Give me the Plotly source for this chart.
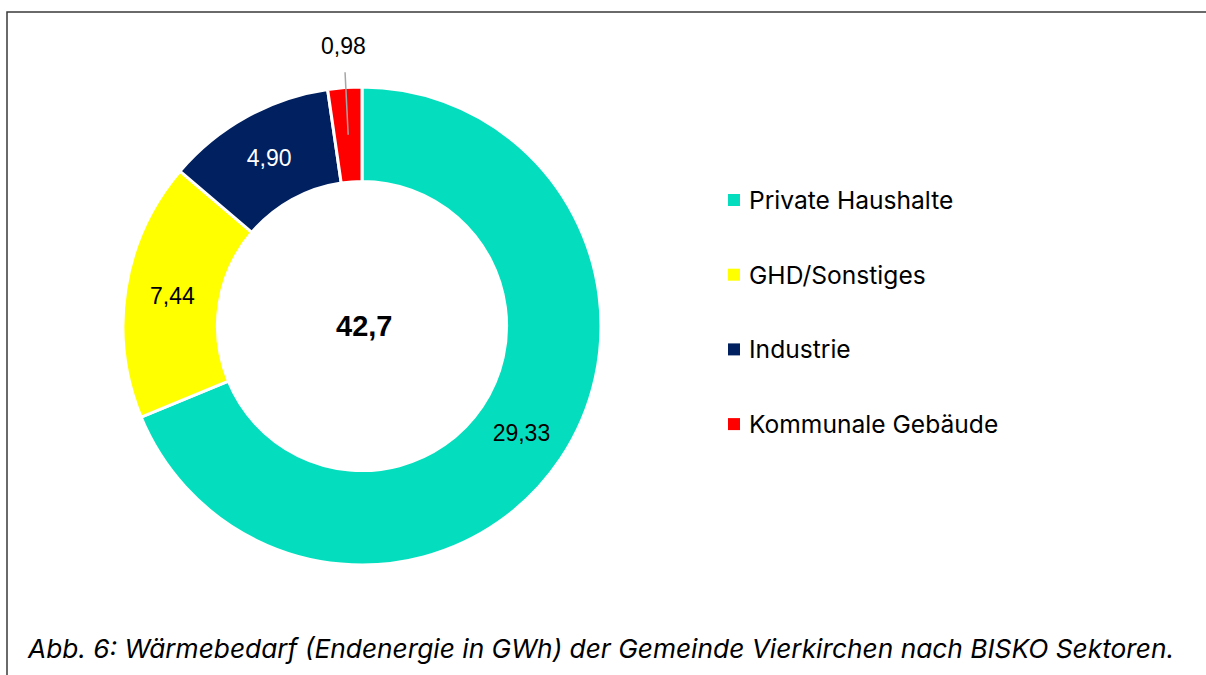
import math
import plotly.graph_objects as go

categories = ["Private Haushalte", "GHD/Sonstiges", "Industrie", "Kommunale Gebäude"]
values = [29.33, 7.44, 4.90, 0.98]
value_labels = ["29,33", "7,44", "4,90", "0,98"]
colors = ["#05DEBE", "#FFFF00", "#002060", "#FF0000"]
label_colors = ["#000000", "#000000", "#FFFFFF", "#000000"]
total_label = "42,7"
caption = "Abb. 6: Wärmebedarf (Endenergie in GWh) der Gemeinde Vierkirchen nach BISKO Sektoren."

W, H = 1206, 675
cx, cy, R = 362, 326, 239
hole = 0.605

def px(x):
    return x / W

def py(y):
    return 1 - y / H

inside_text = [value_labels[i] if i < 3 else "" for i in range(4)]

fig = go.Figure()
fig.add_trace(go.Pie(
    labels=categories,
    values=values,
    text=inside_text,
    textinfo="text",
    textposition="inside",
    insidetextorientation="horizontal",
    insidetextfont=dict(family="Liberation Sans, Arial", size=23, color=label_colors),
    marker=dict(colors=colors, line=dict(color="white", width=3)),
    hole=hole,
    sort=False,
    direction="clockwise",
    rotation=0,
    showlegend=False,
    domain=dict(x=[px(cx - R), px(cx + R)], y=[py(cy + R), py(cy - R)]),
    hoverinfo="label+value",
))

annotations = []
# center total
annotations.append(dict(x=px(cx + 2), y=py(cy), xref="paper", yref="paper", text="<b>" + total_label + "</b>",
                        showarrow=False, xanchor="center", yanchor="middle",
                        font=dict(family="Liberation Sans, Arial", size=29, color="black")))

# outside label for the smallest slice, positioned from its angle
tot = sum(values)
mid = (sum(values[:3]) + values[3] / 2) / tot * 2 * math.pi
r_tip = R * (1 + hole) / 2
tip_x = cx + r_tip * math.sin(mid)
tip_y = cy - r_tip * math.cos(mid)
lab_x = cx + (R + 42) * math.sin(mid) - 12
lab_y = cy - (R + 42) * math.cos(mid)
annotations.append(dict(x=px(tip_x), y=py(tip_y), xref="paper", yref="paper",
                        ax=lab_x - tip_x + 14, ay=lab_y - tip_y, axref="pixel", ayref="pixel",
                        text=value_labels[3], showarrow=True, arrowhead=0, arrowwidth=1.5,
                        arrowcolor="#A6A6A6", standoff=0, startstandoff=12,
                        font=dict(family="Liberation Sans, Arial", size=23, color="black")))

# legend
leg_x = 734
leg_y0 = 200
leg_dy = 74.7
shapes = []
for i, (cat, col) in enumerate(zip(categories, colors)):
    y = leg_y0 + i * leg_dy
    shapes.append(dict(type="rect", xref="paper", yref="paper",
                       x0=px(leg_x - 6), x1=px(leg_x + 6), y0=py(y + 6), y1=py(y - 6),
                       fillcolor=col, line=dict(width=0)))
    annotations.append(dict(x=px(leg_x + 13), y=py(y), xref="paper", yref="paper", text=cat,
                            showarrow=False, xanchor="left", yanchor="middle",
                            font=dict(family="Inter", size=24.6, color="#000000")))

# caption
annotations.append(dict(x=px(25), y=py(648), xref="paper", yref="paper", text="<i>" + caption + "</i>",
                        showarrow=False, xanchor="left", yanchor="middle",
                        font=dict(family="Inter", size=26.3, color="#000000")))

# frame
shapes.append(dict(type="rect", xref="paper", yref="paper", x0=px(7), y0=py(12), x1=px(1215), y1=py(690),
                   line=dict(color="#3A3A3A", width=1.5), fillcolor="rgba(0,0,0,0)", layer="above"))

fig.update_layout(
    width=W, height=H,
    margin=dict(l=0, r=0, t=0, b=0),
    paper_bgcolor="white", plot_bgcolor="white",
    annotations=annotations, shapes=shapes,
)

fig.write_html("out.html", config={"displayModeBar": False},
               post_script="document.body.style.margin='0';document.body.style.overflow='hidden';")
